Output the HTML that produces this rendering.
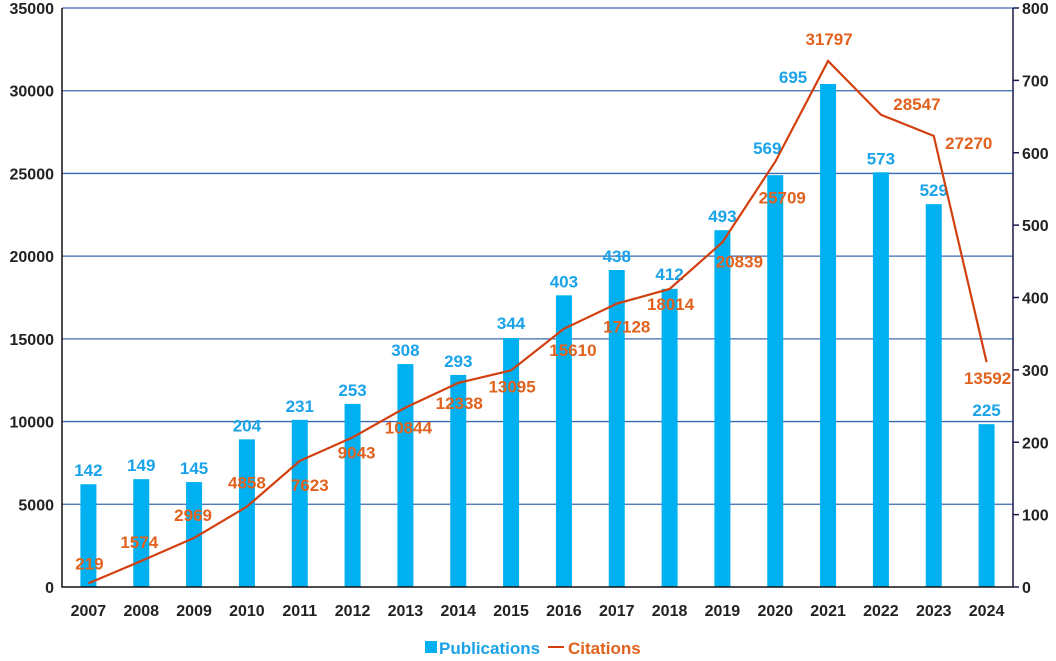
<!DOCTYPE html>
<html><head><meta charset="utf-8"><style>
body{margin:0;background:#fff;}
svg text{font-family:"Liberation Sans",sans-serif;font-weight:bold;}
</style></head><body>
<svg id="c" width="1056" height="656"></svg>
<script>
const years=["2007","2008","2009","2010","2011","2012","2013","2014","2015","2016","2017","2018","2019","2020","2021","2022","2023","2024"];
const publications=[142,149,145,204,231,253,308,293,344,403,438,412,493,569,695,573,529,225];
const citations=[219,1574,2969,4858,7623,9043,10844,12338,13095,15610,17128,18014,20839,25709,31797,28547,27270,13592];
const leftTicks=[0,5000,10000,15000,20000,25000,30000,35000];
const rightTicks=[0,100,200,300,400,500,600,700,800];
const citeLabelDx=[1,-2,-1,0,10,4,3,1,1,9,10,1,17,7,1,36,35,1];
const citeLabelDy=[-20,-19,-23,-24,24,15,20,20,16,21,23,15,19,36,-22,-11,7,16];
const pubLabelDx=[0,0,0,0,0,0,0,0,0,0,0,0,0,-8,-35,0,0,0];
const pubLabelDy=[-14,-14,-14,-14,-14,-14,-14,-14,-15,-14,-14,-15,-14,-27,-7,-14,-14,-14];

const NS="http://www.w3.org/2000/svg",svg=document.getElementById('c');
const X0=62,X1=1013,Y0=587,YT=8;
const step=(X1-X0)/years.length;
const xc=i=>X0+(i+0.5)*step;
const yL=v=>Y0-v/35000*(Y0-YT);
const yR=v=>Y0-v/800*(Y0-YT);
function el(t,a,txt){const e=document.createElementNS(NS,t);for(const k in a)e.setAttribute(k,a[k]);if(txt!=null)e.textContent=txt;svg.appendChild(e);return e;}
leftTicks.forEach(v=>{
 if(v>0){const g=el('line',{x1:X0,x2:X1,y1:yL(v),y2:yL(v),stroke:'#3A68B0','stroke-width':1.3});
 
 }
 const t=el('text',{x:X0-8,y:yL(v)+6,'text-anchor':'end','font-size':16,fill:'#222'},v);
 
 
});
rightTicks.forEach(v=>{
 const tk=el('line',{x1:X1,x2:X1+6,y1:yR(v),y2:yR(v),stroke:'#1a1a4a','stroke-width':1.5});
 
 
 const t=el('text',{x:X1+9,y:yR(v)+6,'font-size':16,fill:'#222'},v);
 
 
});
years.forEach((y,i)=>{
 const h=Y0-yR(publications[i]);
 const b=el('rect',{x:xc(i)-8,y:yR(publications[i]),width:16,height:h,fill:'#00B0F0'});
 
 
 const t=el('text',{x:xc(i)+pubLabelDx[i],y:yR(publications[i])+pubLabelDy[i]+6,'text-anchor':'middle','font-size':17,fill:'#1AA3E8'},publications[i]);
 
 
 const xl=el('text',{x:xc(i),y:616,'text-anchor':'middle','font-size':16,fill:'#222'},y);
 
 
});
const ax=el('path',{d:`M${X0},${YT} V${Y0} H${X1}`,fill:'none',stroke:'#111','stroke-width':1.5});


const rx=el('line',{x1:X1,x2:X1,y1:YT,y2:Y0,stroke:'#1a1a4a','stroke-width':1.5});


const ln=el('polyline',{points:citations.map((c,i)=>xc(i)+','+yL(c)).join(' '),fill:'none',stroke:'#D2400F','stroke-width':2.2});


citations.forEach((c,i)=>{
 const t=el('text',{x:xc(i)+citeLabelDx[i],y:yL(c)+citeLabelDy[i]+6,'text-anchor':'middle','font-size':17,fill:'#E0621E'},c);
 
 
});
const lr=el('rect',{x:425,y:641,width:12,height:12,fill:'#00B0F0'});


const lt=el('text',{x:439,y:654,'font-size':17,fill:'#1AA3E8'},'Publications');


const ll=el('line',{x1:548,x2:564,y1:647,y2:647,stroke:'#D2400F','stroke-width':2});


const lt2=el('text',{x:568,y:654,'font-size':17,fill:'#E0621E'},'Citations');


</script>
</body></html>
